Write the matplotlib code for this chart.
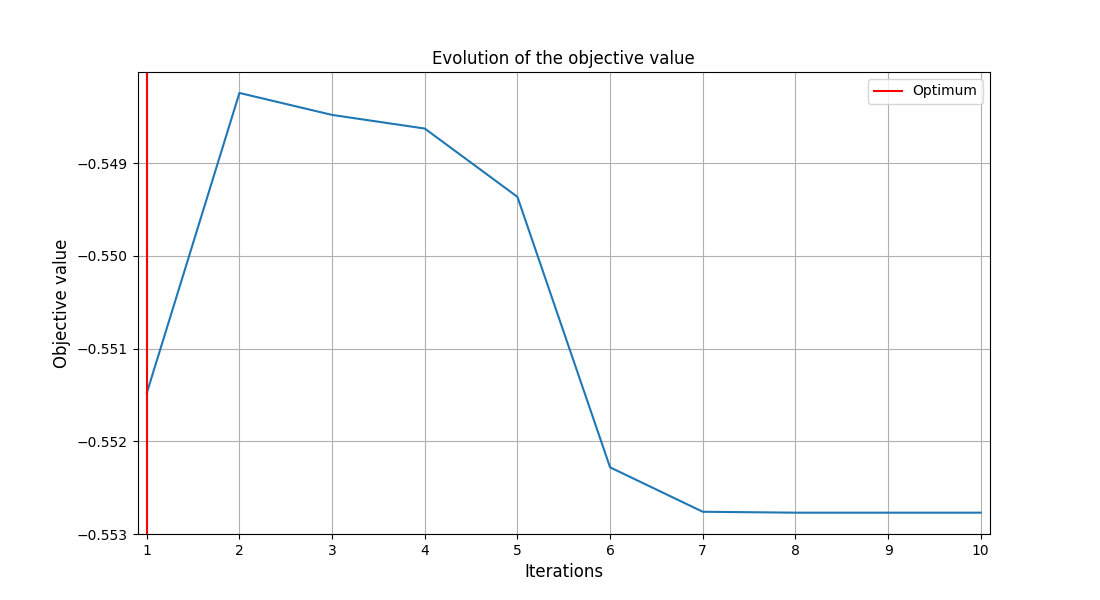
import numpy as np
import matplotlib.pyplot as plt

iterations = [1, 2, 3, 4, 5, 6, 7, 8, 9, 10]
objective = [-0.551480, -0.548242, -0.548479, -0.548626, -0.549363,
             -0.552281, -0.552760, -0.552770, -0.552770, -0.552770]
optimum_iter = 1

fig = plt.figure(figsize=(11, 6), dpi=100)
ax = fig.add_subplot(1, 1, 1)

ax.plot(iterations, objective)
ax.axvline(optimum_iter, color='red', label='Optimum')

ax.set_xlim(0.9, 10.1)
ax.set_ylim(-0.553, -0.548016)
ax.set_xticks(iterations)
ax.set_yticks([-0.553, -0.552, -0.551, -0.550, -0.549])
ax.grid(True)
ax.set_title('Evolution of the objective value')
ax.set_xlabel('Iterations', fontsize=12)
ax.set_ylabel('Objective value', fontsize=12)
ax.legend(loc='upper right')

fig.savefig('out.png', dpi=100)
